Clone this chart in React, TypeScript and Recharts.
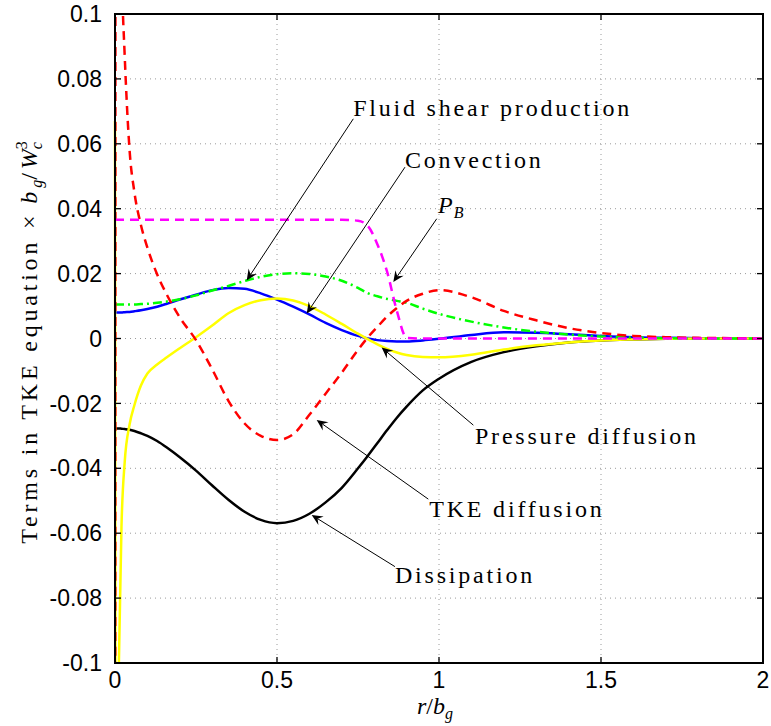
import React from 'react';
import {
  LineChart,
  Line,
  XAxis,
  YAxis,
  CartesianGrid,
  ReferenceLine,
  ReferenceDot,
  Label
} from 'recharts';

// radial position r/b_g
const rValues = [
  0, 0.003, 0.008, 0.012, 0.02, 0.03, 0.045, 0.06, 0.08, 0.1,
  0.13, 0.16, 0.2, 0.25, 0.3, 0.35, 0.4, 0.45, 0.5, 0.55,
  0.6, 0.65, 0.7, 0.75, 0.78, 0.81, 0.84, 0.87, 0.9, 0.95,
  1.0, 1.1, 1.2, 1.3, 1.4, 1.5, 1.6, 1.7, 1.8, 1.9, 2.0
];

const convection = [
  0.008, 0.008, 0.008, 0.008, 0.008, 0.0081, 0.0082, 0.0084, 0.0087, 0.0091,
  0.0098, 0.0107, 0.012, 0.0135, 0.0149, 0.0156, 0.0153, 0.0139, 0.012, 0.0098,
  0.0074, 0.0048, 0.0026, 0.0008, 0.0, -0.0005, -0.0008, -0.0009, -0.0009, -0.0006,
  -0.0001, 0.0011, 0.0019, 0.0018, 0.0013, 0.0008, 0.0004, 0.0002, 0.0001, 0, 0
];

const shearProduction = [
  0.0105, 0.0105, 0.0105, 0.0105, 0.0105, 0.0105, 0.0105, 0.0105, 0.0106, 0.0107,
  0.011, 0.0114, 0.0121, 0.0133, 0.0148, 0.0162, 0.0177, 0.019, 0.0198, 0.0201,
  0.0199, 0.0191, 0.0178, 0.0156, 0.014, 0.013, 0.0122, 0.0116, 0.011, 0.0092,
  0.0076, 0.0052, 0.0034, 0.0021, 0.0012, 0.0006, 0.0003, 0.0001, 0, 0, 0
];

const buoyancy = [
  0.0366, 0.0366, 0.0366, 0.0366, 0.0366, 0.0366, 0.0366, 0.0366, 0.0366, 0.0366,
  0.0366, 0.0366, 0.0366, 0.0366, 0.0366, 0.0366, 0.0366, 0.0366, 0.0366, 0.0366,
  0.0366, 0.0366, 0.0366, 0.0363, 0.0347, 0.029, 0.0205, 0.0085, 0.0002, 0,
  0, 0, 0, 0, 0, 0, 0, 0, 0, 0, 0
];

const tkeDiffusion = [
  -0.5, 0.5, 0.2, 0.16, 0.115, 0.087, 0.058, 0.045, 0.035, 0.028,
  0.0198, 0.0135, 0.0065, -0.0005, -0.0095, -0.0192, -0.0262, -0.03, -0.0313, -0.0295,
  -0.0235, -0.017, -0.0105, -0.0035, 0.0003, 0.0036, 0.0068, 0.0094, 0.0116, 0.0138,
  0.0149, 0.0127, 0.0085, 0.0056, 0.0032, 0.0017, 0.0008, 0.0004, 0.0002, 0.0001, 0
];

const pressureDiffusion = [
  0.067, -0.2, -0.13, -0.1, -0.058, -0.038, -0.0265, -0.0205, -0.0145, -0.0108,
  -0.008, -0.0058, -0.003, 0.0004, 0.004, 0.0078, 0.0103, 0.0118, 0.0123, 0.0117,
  0.01, 0.0074, 0.0045, 0.0015, -0.0002, -0.0018, -0.0032, -0.0043, -0.0051, -0.0057,
  -0.0058, -0.005, -0.0034, -0.0021, -0.0012, -0.0006, -0.0003, -0.0001, 0, 0, 0
];

const dissipation = [
  -0.0277, -0.0277, -0.0277, -0.0277, -0.0278, -0.0279, -0.0281, -0.0285, -0.0292, -0.03,
  -0.0316, -0.0336, -0.0366, -0.0407, -0.0453, -0.0497, -0.0534, -0.0559, -0.0569, -0.0562,
  -0.054, -0.0505, -0.046, -0.04, -0.0362, -0.0322, -0.0282, -0.0244, -0.021, -0.016,
  -0.0124, -0.0072, -0.0042, -0.0024, -0.0012, -0.0006, -0.0003, -0.0001, 0, 0, 0
];

const xTicks = [0, 0.5, 1, 1.5, 2];
const yTicks = [-0.1, -0.08, -0.06, -0.04, -0.02, 0, 0.02, 0.04, 0.06, 0.08, 0.1];

// annotation arrows: tail -> tip, and text anchor (data coords)
const notes = [
  { text: 'Fluid shear production', tail: [0.7355, 0.0677], tip: [0.4065, 0.0179], at: [0.735, 0.0685] },
  { text: 'Convection', tail: [0.895, 0.0528], tip: [0.5917, 0.0077], at: [0.895, 0.0525] },
  { text: 'P', sub: 'B', tail: [0.993, 0.0369], tip: [0.859, 0.0174], at: [0.997, 0.0386] },
  { text: 'Pressure diffusion', tail: [1.106, -0.0267], tip: [0.823, -0.0028], at: [1.111, -0.0325] },
  { text: 'TKE diffusion', tail: [0.967, -0.0495], tip: [0.6225, -0.0251], at: [0.97, -0.0549] },
  { text: 'Dissipation', tail: [0.864, -0.0703], tip: [0.607, -0.0544], at: [0.864, -0.0754] }
];

const data = rValues.map((r, i) => ({
  r,
  convection: convection[i],
  shear: shearProduction[i],
  buoyancy: buoyancy[i],
  tke: tkeDiffusion[i],
  pressure: pressureDiffusion[i],
  dissipation: dissipation[i]
}));

const SERIF = '"Liberation Serif", "Times New Roman", serif';
const SANS = '"Liberation Sans", Arial, sans-serif';

const Arrow = (props: any) => {
  const { x1, y1, x2, y2 } = props;
  const a = Math.atan2(y2 - y1, x2 - x1);
  const c = Math.cos(a);
  const s = Math.sin(a);
  const len = 11;
  const half = 5;
  const notch = 7;
  const bx = x2 - len * c;
  const by = y2 - len * s;
  const pts = [
    [x2, y2],
    [bx - half * s, by + half * c],
    [x2 - notch * c, y2 - notch * s],
    [bx + half * s, by - half * c]
  ].map(p => p.join(',')).join(' ');
  return (
    <g>
      <line x1={x1} y1={y1} x2={x2 - notch * c} y2={y2 - notch * s} stroke="#000" strokeWidth={1} />
      <polygon points={pts} fill="#000" />
    </g>
  );
};

// whole axes frame, drawn from the diagonal (0,-0.1) -> (2,0.1)
const Frame = (props: any) => {
  const { x1, y1, x2, y2 } = props;
  return (
    <rect
      x={Math.min(x1, x2)}
      y={Math.min(y1, y2)}
      width={Math.abs(x2 - x1)}
      height={Math.abs(y2 - y1)}
      fill="none"
      stroke="#000"
      strokeWidth={2}
    />
  );
};

// inward tick mark
const TickMark = ({ cx, cy, dx, dy }: any) => (
  <line x1={cx} y1={cy} x2={cx + dx} y2={cy + dy} stroke="#000" strokeWidth={1.3} />
);

const NoteText = ({ cx, cy, note }: any) => {
  if (note.sub) {
    return (
      <text x={cx} y={cy} fontFamily={SERIF} fontSize={24} fontStyle="italic" fill="#000">
        {note.text}
        <tspan fontSize={16} dy={5} dx={1}>{note.sub}</tspan>
      </text>
    );
  }
  return (
    <text x={cx} y={cy} fontFamily={SERIF} fontSize={24} letterSpacing={2.8} fill="#000">
      {note.text}
    </text>
  );
};

const YTitle = ({ viewBox }: any) => {
  const x = 37;
  const y = viewBox.y + viewBox.height / 2 + 4;
  return (
    <text
      x={x}
      y={y}
      transform={`rotate(-90, ${x}, ${y})`}
      textAnchor="middle"
      fontFamily={SERIF}
      fontSize={24}
      letterSpacing={3.8}
      fill="#000"
    >
      Terms in TKE equation ×
      <tspan fontStyle="italic" dx={8}>b</tspan>
      <tspan fontStyle="italic" fontSize={16} dy={5} letterSpacing={0}>g</tspan>
      <tspan dy={-5}>/</tspan>
      <tspan fontStyle="italic" letterSpacing={0}>W</tspan>
      <tspan fontStyle="italic" fontSize={16} dy={5} letterSpacing={0}>c</tspan>
      <tspan fontSize={16} dx={-7} dy={-15} letterSpacing={0}>3</tspan>
    </text>
  );
};

const XTitle = ({ viewBox }: any) => {
  const x = viewBox.x + viewBox.width / 2 - 22;
  const y = viewBox.y + 51;
  return (
    <text x={x} y={y} fontFamily={SERIF} fontSize={24} fill="#000">
      <tspan fontStyle="italic">r</tspan>
      <tspan>/</tspan>
      <tspan fontStyle="italic">b</tspan>
      <tspan fontStyle="italic" fontSize={16} dy={5}>g</tspan>
    </text>
  );
};

const tickStyle = { fill: '#000', fontSize: 23, fontFamily: SANS };

export default function App() {
  return (
    <div style={{ position: 'absolute', left: 0, top: 0, background: '#fff' }}>
      <LineChart
        width={771}
        height={726}
        data={data}
        margin={{ top: 14, right: 8, bottom: 23, left: 0 }}
      >
        <CartesianGrid stroke="#9a9a9a" strokeDasharray="1 4" />
        <XAxis
          dataKey="r"
          type="number"
          domain={[0, 2]}
          ticks={xTicks}
          height={40}
          tick={tickStyle}
          tickLine={false}
          tickMargin={3}
          axisLine={{ stroke: '#000', strokeWidth: 2 }}
          tickFormatter={(v: number) => String(v)}
        >
          <Label content={(p: any) => <XTitle viewBox={p.viewBox} />} />
        </XAxis>
        <YAxis
          type="number"
          domain={[-0.1, 0.1]}
          ticks={yTicks}
          allowDataOverflow
          width={115}
          tick={tickStyle}
          tickLine={false}
          tickMargin={7}
          axisLine={{ stroke: '#000', strokeWidth: 2 }}
          tickFormatter={(v: number) => String(v)}
        >
          <Label content={(p: any) => <YTitle viewBox={p.viewBox} />} />
        </YAxis>

        <Line type="monotone" dataKey="dissipation" stroke="#000000" strokeWidth={2.5} dot={false} activeDot={false} isAnimationActive={false} />
        <Line type="monotone" dataKey="convection" stroke="#0000ff" strokeWidth={2.5} dot={false} activeDot={false} isAnimationActive={false} />
        <Line type="monotone" dataKey="pressure" stroke="#ffff00" strokeWidth={2.5} dot={false} activeDot={false} isAnimationActive={false} />
        <Line type="monotone" dataKey="shear" stroke="#00ff00" strokeWidth={2.5} strokeDasharray="9 4 2 4" dot={false} activeDot={false} isAnimationActive={false} />
        <Line type="monotone" dataKey="tke" stroke="#ff0000" strokeWidth={2.5} strokeDasharray="9 6" dot={false} activeDot={false} isAnimationActive={false} />
        <Line type="monotone" dataKey="buoyancy" stroke="#ff00ff" strokeWidth={2.5} strokeDasharray="9 6" dot={false} activeDot={false} isAnimationActive={false} />

        <ReferenceLine
          segment={[{ x: 0, y: -0.1 }, { x: 2, y: 0.1 }]}
          ifOverflow="visible"
          shape={(p: any) => <Frame {...p} />}
        />
        {xTicks.map(t => (
          <ReferenceDot key={`xb-${t}`} x={t} y={-0.1} r={0} ifOverflow="visible"
            shape={(p: any) => <TickMark cx={p.cx} cy={p.cy} dx={0} dy={-6} />} />
        ))}
        {xTicks.map(t => (
          <ReferenceDot key={`xt-${t}`} x={t} y={0.1} r={0} ifOverflow="visible"
            shape={(p: any) => <TickMark cx={p.cx} cy={p.cy} dx={0} dy={6} />} />
        ))}
        {yTicks.map(t => (
          <ReferenceDot key={`yl-${t}`} x={0} y={t} r={0} ifOverflow="visible"
            shape={(p: any) => <TickMark cx={p.cx} cy={p.cy} dx={6} dy={0} />} />
        ))}
        {yTicks.map(t => (
          <ReferenceDot key={`yr-${t}`} x={2} y={t} r={0} ifOverflow="visible"
            shape={(p: any) => <TickMark cx={p.cx} cy={p.cy} dx={-6} dy={0} />} />
        ))}

        {notes.map((n, i) => (
          <ReferenceLine
            key={`arrow-${i}`}
            segment={[{ x: n.tail[0], y: n.tail[1] }, { x: n.tip[0], y: n.tip[1] }]}
            shape={(p: any) => <Arrow {...p} />}
          />
        ))}
        {notes.map((n, i) => (
          <ReferenceDot
            key={`note-${i}`}
            x={n.at[0]}
            y={n.at[1]}
            r={0}
            shape={(p: any) => <NoteText cx={p.cx} cy={p.cy} note={n} />}
          />
        ))}
      </LineChart>
    </div>
  );
}
